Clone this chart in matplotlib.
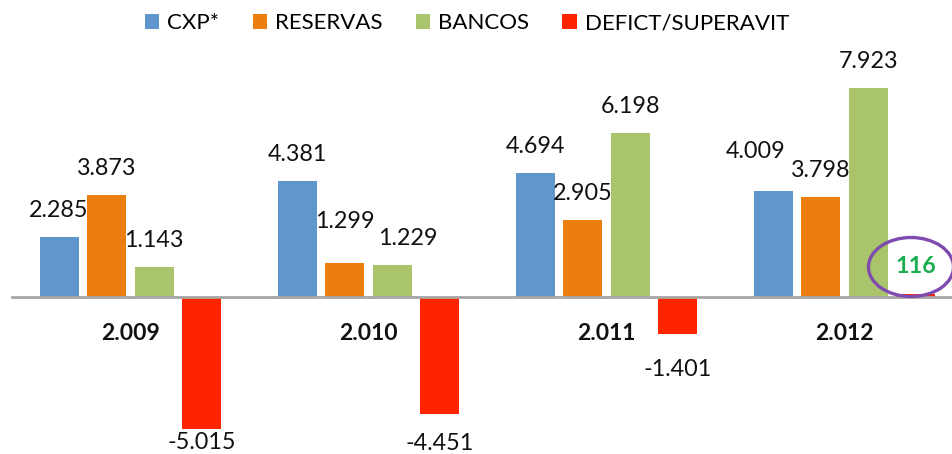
import matplotlib
matplotlib.use("Agg")
import matplotlib.pyplot as plt
from matplotlib.patches import Ellipse
import numpy as np

plt.rcParams['font.family'] = ['Lato', 'DejaVu Sans']

years = ['2.009', '2.010', '2.011', '2.012']
series = ['CXP*', 'RESERVAS', 'BANCOS', 'DEFICT/SUPERAVIT']
cxp = [2285, 4381, 4694, 4009]
reservas = [3873, 1299, 2905, 3798]
bancos = [1143, 1229, 6198, 7923]
deficit = [-5015, -4451, -1401, 116]

colors = ['#5F96CB', '#EC7E0E', '#A9C46A', '#FF2400']

def fmt(v):
    # thousands separator as dot (Spanish style)
    return f"{v:,}".replace(",", ".")

fig = plt.figure(figsize=(9.53, 4.54), dpi=100)
ax = fig.add_axes([0, 0, 1, 1])

# pixel -> data mapping chosen to match layout
cat_px = 238.0
x0_px = 130.5
ax.set_xlim(-x0_px / cat_px, (953 - x0_px) / cat_px)
ppu = 0.02638
ax.set_ylim(-(454 - 297) / ppu, 297 / ppu)
ax.axis('off')

x = np.arange(len(years))
width = 0.164
step = 0.2
all_vals = [cxp, reservas, bancos, deficit]

# label nudges in pixels (dx, extra gap), keyed by (series, year)
nudge = {(1, 1): (0, 15), (2, 1): (16, 0), (3, 0): (0, -16),
         (3, 2): (0, 6), (0, 3): (-17, 13)}

bars_all = []
for s, vals in enumerate(all_vals):
    pos = x + (s - 1.5) * step
    bars = ax.bar(pos, vals, width=width, color=colors[s], label=series[s], zorder=2)
    bars_all.append(bars)
    for i, (b, v) in enumerate(zip(bars, vals)):
        if s == 3 and i == 3:
            continue
        dx, dg = nudge.get((s, i), (0, 0))
        cx = b.get_x() + b.get_width() / 2
        if v >= 0:
            ax.annotate(fmt(v), (cx, v), xytext=(dx, 20 + dg), textcoords='offset pixels',
                        ha='center', va='baseline', fontsize=16.8, color='#111111')
        else:
            ax.annotate(fmt(v), (cx, v), xytext=(dx, -19 - dg), textcoords='offset pixels',
                        ha='center', va='top', fontsize=16.8, color='#111111')

# highlighted superavit value
b = bars_all[3][3]
cx = b.get_x() + b.get_width() / 2
ax.annotate(fmt(deficit[3]), (cx, deficit[3]), xytext=(0, 27), textcoords='offset pixels',
            ha='center', va='center', fontsize=16.8, fontweight='bold', color='#1AAE50', zorder=5)
ell_x = (911 - x0_px) / cat_px
ell_y = (297 - 267) / ppu
ax.add_patch(Ellipse((ell_x, ell_y), 85 / cat_px, 59 / ppu, fill=False,
                     edgecolor='#7F4BAE', linewidth=2.4, zorder=6))

# zero axis line
ax.plot([-0.5, 3.6], [0, 0], color='#A6A6A6', linewidth=2, zorder=3)

# category labels
for i, yr in enumerate(years):
    ax.annotate(yr, (i, 0), xytext=(0, -36), textcoords='offset pixels',
                ha='center', va='center', fontsize=16.5, fontweight='bold', color='#111111')

fig.legend(loc='upper center', bbox_to_anchor=(0.49, 1.0), ncol=4, frameon=False,
           fontsize=16, handlelength=0.65, handleheight=0.65, handletextpad=0.35,
           columnspacing=1.5, borderaxespad=0.2)

fig.savefig('out.png', dpi=100)
